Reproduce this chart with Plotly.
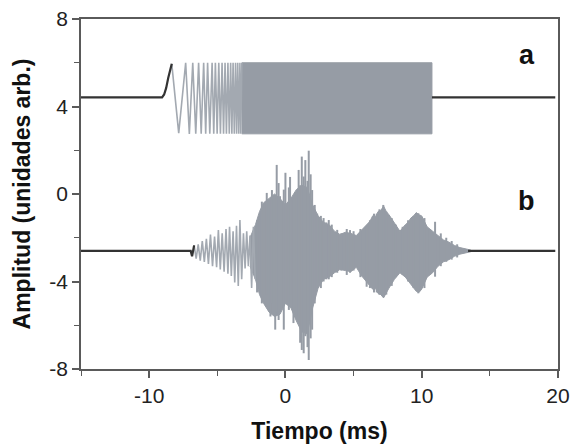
import plotly.graph_objects as go

# ---------------- data ----------------
# Signal a: baseline level, chirp extremes (resolved part), dense band
a_base_left_t = [-15.0, -9.05, -8.90, -8.75, -8.60, -8.45, -8.34]
a_base_left_y = [4.42, 4.42, 4.55, 4.85, 5.30, 5.75, 5.95]
a_chirp_t = [-8.34, -7.83, -7.32, -7.05, -6.80, -6.58, -6.37, -6.18, -6.00, -5.85,
             -5.71, -5.55, -5.38, -5.26, -5.14, -5.01, -4.89, -4.77, -4.65, -4.54,
             -4.43, -4.33, -4.22, -4.12, -4.02, -3.93, -3.84, -3.75, -3.66, -3.58,
             -3.50, -3.42, -3.34, -3.27, -3.20]
a_chirp_y = [5.95, 2.78, 6.00, 2.75, 6.00, 2.75, 6.00, 2.75, 6.00, 2.75,
             6.00, 2.75, 6.00, 2.75, 6.00, 2.75, 6.00, 2.75, 6.00, 2.75,
             6.00, 2.75, 6.00, 2.75, 6.00, 2.75, 6.00, 2.75, 6.00, 2.75,
             6.00, 2.75, 6.00, 2.75, 6.00]
a_band_t = [-3.20, 10.75]
a_band_hi = [6.00, 6.00]
a_band_lo = [2.75, 2.75]
a_base_right_t = [10.75, 19.8]
a_base_right_y = [4.42, 4.42]

# Signal b: baseline, onset wiggle, resolved oscillation, body envelope, spikes
b_base_left_t = [-15.0, -6.95, -6.85, -6.70]
b_base_left_y = [-2.60, -2.60, -2.85, -2.35]
b_osc_t = [-6.70, -6.55, -6.40, -6.25, -6.10, -5.95, -5.80, -5.65, -5.50, -5.35,
           -5.20, -5.05, -4.92, -4.78, -4.64, -4.50, -4.36, -4.22, -4.10, -3.97,
           -3.84, -3.72, -3.59, -3.46, -3.34, -3.21, -3.08, -2.96, -2.84, -2.72,
           -2.60, -2.48, -2.35, -2.22]
b_osc_y = [-2.35, -2.95, -2.30, -3.05, -2.15, -3.10, -2.05, -3.20, -1.85, -3.30,
           -1.95, -3.35, -1.65, -3.45, -1.80, -3.55, -1.60, -3.65, -1.50, -3.75,
           -1.70, -4.05, -1.45, -4.20, -1.19, -3.90, -1.80, -3.40, -1.70, -3.30,
           -1.90, -4.30, -1.50, -3.90]
b_body_t = [-2.6, -2.2, -1.9, -1.6, -1.2, -0.8, -0.4, 0.0, 0.4, 0.8, 1.2, 1.6, 2.0,
            2.4, 2.8, 3.2, 3.6, 4.0, 4.4, 4.8, 5.2, 5.6, 6.0, 6.2, 6.4, 6.6, 6.8,
            7.0, 7.2, 7.4, 7.6, 8.0, 8.4, 8.8, 9.0, 9.2, 9.4, 9.6, 9.8, 10.0, 10.4,
            10.8, 11.2, 11.6, 12.0, 12.4, 12.8, 13.2, 13.6]
b_body_hi = [-2.0, -1.4, -0.8, -0.4, -0.2, 0.0, -0.2, -0.5, -0.2, 0.2, 0.4, 0.3,
             -0.5, -1.0, -1.3, -1.4, -1.7, -1.85, -1.75, -1.8, -1.9, -1.65, -1.4, -1.25,
             -1.0, -1.05, -0.8, -0.75, -0.55, -0.8, -0.95, -1.35, -1.7, -1.4, -1.3, -1.1,
             -1.0, -0.85, -0.95, -1.0, -1.5, -1.7, -1.9, -2.1, -2.2, -2.35, -2.45, -2.52,
             -2.56]
b_body_lo = [-3.3, -3.9, -4.6, -5.0, -5.4, -5.6, -5.5, -5.0, -5.2, -5.8, -6.3, -6.4,
             -5.2, -4.3, -3.9, -3.8, -3.6, -3.45, -3.5, -3.55, -3.35, -3.75, -4.05, -4.2,
             -4.35, -4.3, -4.55, -4.6, -4.75, -4.5, -4.3, -3.9, -3.6, -3.8, -4.0, -4.15,
             -4.3, -4.45, -4.5, -4.35, -3.8, -3.6, -3.3, -3.1, -3.0, -2.85, -2.75, -2.68,
             -2.64]
b_spike_t = [-2.08, -1.73, -1.37, -1.10, -0.99, -0.75, -0.64, -0.50, -0.40, -0.12,
             0.00, 0.25, 0.34, 0.59, 0.70, 0.97, 1.08, 1.20, 1.34, 1.46, 1.62, 1.71,
             1.85, 1.96, 2.15, 2.33, 2.60, 2.80, 3.00, 3.18, 3.40, 3.80, 4.10, 4.50,
             4.74, 5.00, 5.50, 5.96, 6.20, 6.50, 6.70, 6.90, 7.18, 7.40, 7.80, 8.10,
             8.60, 9.00, 9.40, 9.75, 10.20, 10.60, 10.98, 11.40, 11.80, 12.20, 12.60]
b_spike_hi = [-1.2, -0.35, 0.05, -0.6, 0.18, -0.2, 1.33, 0.5, -0.1, 0.2,
              0.97, 0.3, 0.78, -0.2, 0.05, 1.1, 0.4, 1.71, 0.8, 1.55, 0.6, 1.98,
              0.9, 0.18, -0.5, -0.9, -1.0, -1.1, -1.3, -1.19, -1.4, -1.64, -1.8, -1.6,
              -1.65, -1.7, -1.6, -1.5, -1.2, -0.9, -0.9, -0.7, -0.5, -0.8, -1.1, -1.4,
              -1.5, -1.2, -1.0, -0.88, -1.1, -1.6, -1.27, -1.8, -2.0, -2.15, -2.3]
b_spike_lo = [-4.5, -5.0, -4.6, -5.6, -5.0, -6.2, -5.4, -5.76, -5.3, -6.2,
              -5.0, -5.3, -4.6, -5.9, -5.2, -5.6, -6.8, -7.13, -7.28, -6.5, -7.0, -7.59,
              -6.6, -6.2, -5.0, -4.07, -4.3, -4.0, -3.9, -3.9, -3.8, -3.6, -3.5, -3.7,
              -3.6, -3.5, -3.8, -4.24, -4.3, -4.5, -4.5, -4.6, -4.69, -4.6, -4.2, -3.8,
              -3.7, -4.0, -4.3, -4.54, -4.3, -3.6, -3.78, -3.3, -3.1, -3.0, -2.9]
b_base_right_t = [13.4, 19.8]
b_base_right_y = [-2.60, -2.60]

x_ticks = [-10, 0, 10, 20]
x_tick_labels = ["-10", "0", "10", "20"]
y_ticks = [-8, -4, 0, 4, 8]
y_tick_labels = ["-8", "-4", "0", "4", "8"]

# ---------------- styling ----------------
GREY = "#969ca5"
GREY_LINE = "#a3a9b1"
DARK = "#333333"
AXIS = "#5a5a5a"
FONT = "Liberation Sans, Arial, sans-serif"

fig = go.Figure()


def band(t, hi, lo):
    return list(t) + list(t)[::-1], list(hi) + list(lo)[::-1]


# signal a
bx, by = band(a_band_t, a_band_hi, a_band_lo)
fig.add_trace(go.Scatter(x=bx, y=by, fill="toself", fillcolor=GREY, mode="lines",
                         line=dict(color=GREY, width=1), hoverinfo="skip"))
fig.add_trace(go.Scatter(x=a_chirp_t, y=a_chirp_y, mode="lines",
                         line=dict(color=GREY_LINE, width=1.6), hoverinfo="skip"))
fig.add_trace(go.Scatter(x=a_base_left_t, y=a_base_left_y, mode="lines",
                         line=dict(color=DARK, width=2.2), hoverinfo="skip"))
fig.add_trace(go.Scatter(x=a_base_right_t, y=a_base_right_y, mode="lines",
                         line=dict(color=DARK, width=2.2), hoverinfo="skip"))

# signal b
bx, by = band(b_body_t, b_body_hi, b_body_lo)
fig.add_trace(go.Scatter(x=bx, y=by, fill="toself", fillcolor=GREY, mode="lines",
                         line=dict(color=GREY, width=1), hoverinfo="skip"))
sx, sy = [], []
for t, hi, lo in zip(b_spike_t, b_spike_hi, b_spike_lo):
    sx += [t, t, None]
    sy += [hi, lo, None]
fig.add_trace(go.Scatter(x=sx, y=sy, mode="lines",
                         line=dict(color=GREY, width=2.0), hoverinfo="skip"))
fig.add_trace(go.Scatter(x=b_osc_t, y=b_osc_y, mode="lines",
                         line=dict(color=GREY_LINE, width=1.6), hoverinfo="skip"))
fig.add_trace(go.Scatter(x=b_base_left_t, y=b_base_left_y, mode="lines",
                         line=dict(color=DARK, width=2.2), hoverinfo="skip"))
fig.add_trace(go.Scatter(x=b_base_right_t, y=b_base_right_y, mode="lines",
                         line=dict(color=DARK, width=2.2), hoverinfo="skip"))

fig.add_annotation(x=17.7, y=6.35, text="<b>a</b>", showarrow=False,
                   font=dict(family=FONT, size=27, color="#111"))
fig.add_annotation(x=17.7, y=-0.3, text="<b>b</b>", showarrow=False,
                   font=dict(family=FONT, size=27, color="#111"))

axis_common = dict(showgrid=False, zeroline=False, showline=True, linecolor=AXIS,
                   linewidth=1.5, mirror=True, ticks="outside", ticklen=7,
                   tickwidth=1.5, tickcolor=AXIS, automargin=False,
                   tickfont=dict(family=FONT, size=21, color="#222"))

fig.update_xaxes(range=[-15, 20], tickmode="array", tickvals=x_ticks,
                 ticktext=x_tick_labels,
                 minor=dict(dtick=5, tick0=0, ticks="outside", ticklen=5,
                            tickwidth=1.3, tickcolor=AXIS),
                 title=dict(text="<b>Tiempo (ms)</b>", standoff=18,
                            font=dict(family=FONT, size=23, color="#111")),
                 **axis_common)
fig.update_yaxes(range=[-8, 8], tickmode="array", tickvals=y_ticks,
                 ticktext=y_tick_labels,
                 minor=dict(dtick=2, tick0=0, ticks="outside", ticklen=5,
                            tickwidth=1.3, tickcolor=AXIS),
                 title=dict(text="<b>Amplitud (unidades arb.)</b>", standoff=12,
                            font=dict(family=FONT, size=23, color="#111")),
                 **axis_common)

fig.update_layout(width=576, height=444, showlegend=False,
                  paper_bgcolor="white", plot_bgcolor="white",
                  margin=dict(l=81, r=18, t=19, b=75))

fig.write_html("out.html")
